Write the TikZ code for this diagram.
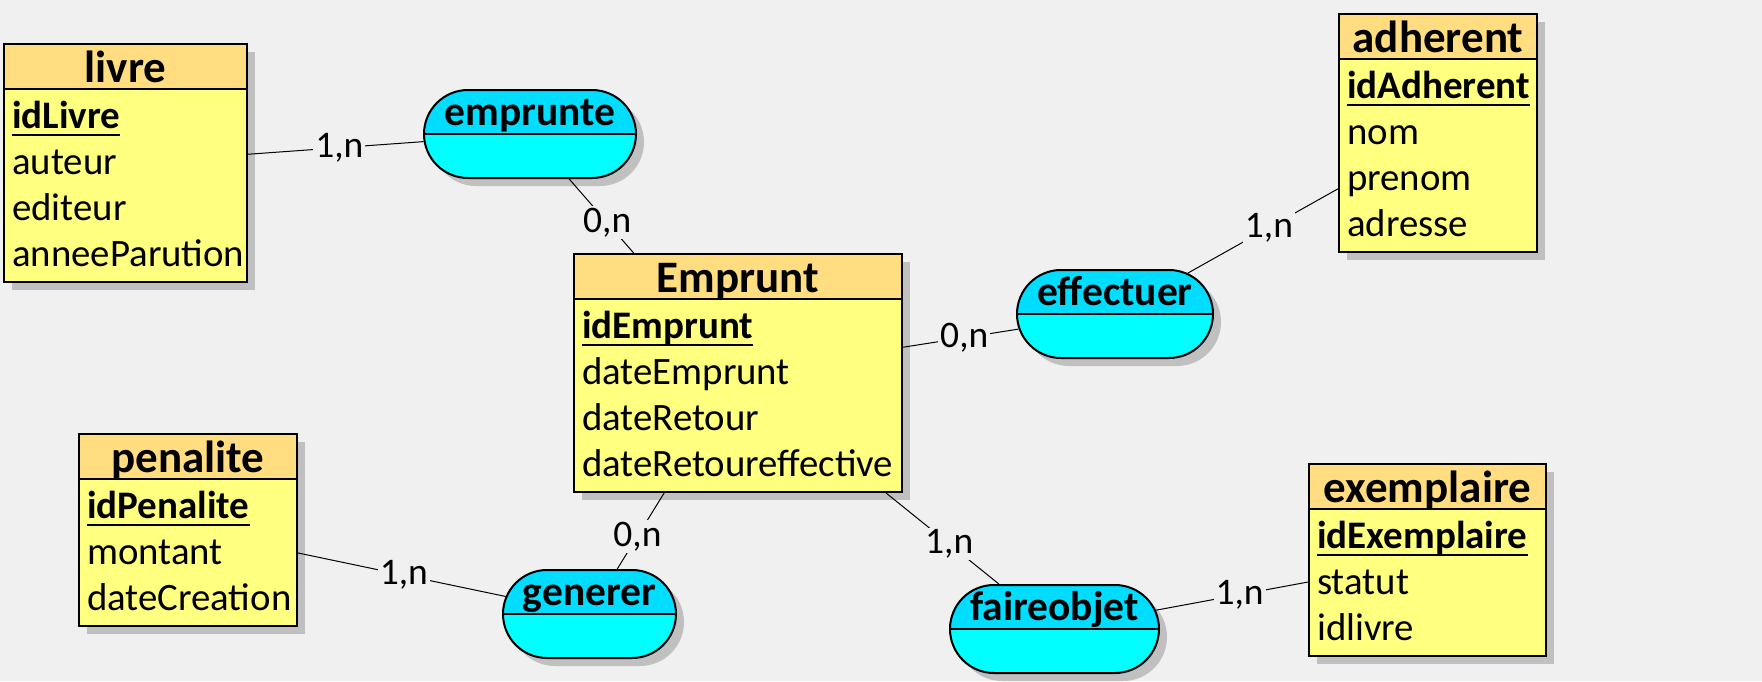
\documentclass[tikz,border=0pt]{standalone}
\usepackage{fontspec}
\setmainfont{Carlito}
\usetikzlibrary{shapes.misc,shadows}
\definecolor{bgc}{RGB}{240,240,240}
\definecolor{headc}{RGB}{255,221,128}
\definecolor{bodyc}{RGB}{255,255,128}
\definecolor{reltop}{RGB}{0,221,255}
\definecolor{relbot}{RGB}{0,255,255}
\definecolor{shadc}{RGB}{192,192,192}
\tikzset{
  shad/.style={drop shadow={shadow xshift=8pt, shadow yshift=-8pt, fill=shadc, opacity=1}},
  entity/.style={rectangle, draw=black, line width=2pt, fill=bodyc, inner sep=0pt, shad,
    path picture={
      \fill[headc] (path picture bounding box.north west) rectangle ([yshift=-45pt]path picture bounding box.north east);
      \draw[line width=2pt] ([yshift=-45pt]path picture bounding box.north west) -- ([yshift=-45pt]path picture bounding box.north east);}},
  relation/.style={rounded rectangle, draw=black, line width=2pt, fill=relbot, inner sep=0pt, minimum height=88pt, shad,
    path picture={
      \fill[reltop] (path picture bounding box.north west) rectangle (path picture bounding box.east);
      \draw[line width=2pt] (path picture bounding box.west) -- (path picture bounding box.east);}},
  etitle/.style={inner sep=0pt, anchor=base, font=\fontsize{45}{45}\selectfont\bfseries},
  rtitle/.style={inner sep=0pt, anchor=base, font=\fontsize{41.5}{41.5}\selectfont\bfseries},
  attr/.style={inner sep=0pt, anchor=base west, font=\fontsize{38.8}{46}\selectfont},
  keyattr/.style={inner sep=0pt, anchor=base west, font=\fontsize{39}{46}\selectfont\bfseries},
  uline/.style={line width=2pt},
  conn/.style={line width=1pt, draw=black},
  card/.style={fill=bgc, inner sep=2pt, font=\fontsize{37.5}{37.5}\selectfont},
}
\begin{document}
\begin{tikzpicture}[x=1pt, y=-1pt]
\fill[bgc] (0,0) rectangle (1762,681);
\useasboundingbox (0,0) rectangle (1762,681);

% entities
\node[entity, minimum width=243pt, minimum height=238pt] (livre) at (125.5,163) {};
\node[entity, minimum width=328pt, minimum height=238pt] (Emprunt) at (738,373) {};
\node[entity, minimum width=198pt, minimum height=238pt] (adherent) at (1438,133) {};
\node[entity, minimum width=218pt, minimum height=192pt] (penalite) at (188,530) {};
\node[entity, minimum width=237pt, minimum height=192pt] (exemplaire) at (1427.5,560) {};
% relations
\node[relation, minimum width=212pt] (emprunte) at (530,134) {};
\node[relation, minimum width=196pt] (effectuer) at (1115,314) {};
\node[relation, minimum width=173pt] (generer) at (589.5,614) {};
\node[relation, minimum width=209pt] (faireobjet) at (1054.5,629) {};

% connectors
\draw[conn] (livre) -- node[card, pos=0.52] (l1) {1,n} (emprunte);
\draw[conn] (emprunte) -- node[card, pos=0.59] (l2) {0,n} (Emprunt);
\draw[conn] (Emprunt) -- node[card, pos=0.53] (l3) {0,n} (effectuer);
\draw[conn] (effectuer) -- node[card, pos=0.54] (l4) {1,n} (adherent);
\draw[conn] (penalite) -- node[card, pos=0.51] (l5) {1,n} (generer);
\draw[conn] (Emprunt) -- node[card, pos=0.57] (l6) {0,n} (generer);
\draw[conn] (Emprunt) -- node[card, pos=0.56] (l7) {1,n} (faireobjet);
\draw[conn] (faireobjet) -- node[card, pos=0.55] (l8) {1,n} (exemplaire);

% livre
\node[etitle] (livre-t) at ([yshift=-39.5pt]livre.north) {livre};
\node[keyattr] (livre-k) at ([xshift=9pt,yshift=-85pt]livre.north west) {idLivre};
\draw[uline] ([yshift=-7pt]livre-k.base west) -- ([yshift=-7pt]livre-k.base east);
\node[attr] (livre-a1) at ([xshift=9pt,yshift=-131pt]livre.north west) {auteur};
\node[attr] (livre-a2) at ([xshift=9pt,yshift=-177pt]livre.north west) {editeur};
\node[attr] (livre-a3) at ([xshift=9pt,yshift=-223pt]livre.north west) {anneeParution};

% Emprunt
\node[etitle] (Emprunt-t) at ([yshift=-39.5pt]Emprunt.north) {Emprunt};
\node[keyattr] (Emprunt-k) at ([xshift=9pt,yshift=-85pt]Emprunt.north west) {idEmprunt};
\draw[uline] ([yshift=-7pt]Emprunt-k.base west) -- ([yshift=-7pt]Emprunt-k.base east);
\node[attr] (Emprunt-a1) at ([xshift=9pt,yshift=-131pt]Emprunt.north west) {dateEmprunt};
\node[attr] (Emprunt-a2) at ([xshift=9pt,yshift=-177pt]Emprunt.north west) {dateRetour};
\node[attr] (Emprunt-a3) at ([xshift=9pt,yshift=-223pt]Emprunt.north west) {dateRetoureffective};

% adherent
\node[etitle] (adherent-t) at ([yshift=-39.5pt]adherent.north) {adherent};
\node[keyattr] (adherent-k) at ([xshift=9pt,yshift=-85pt]adherent.north west) {idAdherent};
\draw[uline] ([yshift=-7pt]adherent-k.base west) -- ([yshift=-7pt]adherent-k.base east);
\node[attr] (adherent-a1) at ([xshift=9pt,yshift=-131pt]adherent.north west) {nom};
\node[attr] (adherent-a2) at ([xshift=9pt,yshift=-177pt]adherent.north west) {prenom};
\node[attr] (adherent-a3) at ([xshift=9pt,yshift=-223pt]adherent.north west) {adresse};

% penalite
\node[etitle] (penalite-t) at ([yshift=-39.5pt]penalite.north) {penalite};
\node[keyattr] (penalite-k) at ([xshift=9pt,yshift=-85pt]penalite.north west) {idPenalite};
\draw[uline] ([yshift=-7pt]penalite-k.base west) -- ([yshift=-7pt]penalite-k.base east);
\node[attr] (penalite-a1) at ([xshift=9pt,yshift=-131pt]penalite.north west) {montant};
\node[attr] (penalite-a2) at ([xshift=9pt,yshift=-177pt]penalite.north west) {dateCreation};

% exemplaire
\node[etitle] (exemplaire-t) at ([yshift=-39.5pt]exemplaire.north) {exemplaire};
\node[keyattr] (exemplaire-k) at ([xshift=9pt,yshift=-85pt]exemplaire.north west) {idExemplaire};
\draw[uline] ([yshift=-7pt]exemplaire-k.base west) -- ([yshift=-7pt]exemplaire-k.base east);
\node[attr] (exemplaire-a1) at ([xshift=9pt,yshift=-131pt]exemplaire.north west) {statut};
\node[attr] (exemplaire-a2) at ([xshift=9pt,yshift=-177pt]exemplaire.north west) {idlivre};

% relation titles
\node[rtitle] (emprunte-t) at ([yshift=-36pt]emprunte.north) {emprunte};
\node[rtitle] (effectuer-t) at ([yshift=-36pt]effectuer.north) {effectuer};
\node[rtitle] (generer-t) at ([yshift=-36pt]generer.north) {generer};
\node[rtitle] (faireobjet-t) at ([yshift=-36pt]faireobjet.north) {faireobjet};
\end{tikzpicture}
\end{document}
